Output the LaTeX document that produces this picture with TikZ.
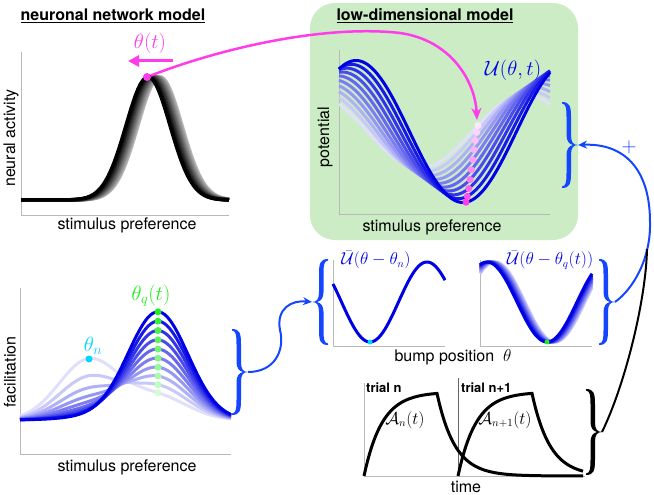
\documentclass[tikz,border=0pt]{standalone}
\usepackage{amsmath}
\usepackage{fontspec}
\setmainfont{TeX Gyre Heros}
\usepackage{tikz}
\usetikzlibrary{arrows.meta, calc}

\definecolor{boxgreen}{RGB}{203,236,196}
\definecolor{mag}{RGB}{255,60,235}
\definecolor{bracecol}{RGB}{20,70,255}
\definecolor{curveblue}{RGB}{0,0,228}
\definecolor{thetan}{RGB}{0,215,255}
\definecolor{thetaq}{RGB}{30,240,30}

\tikzset{
	axis/.style={gray!55, line width=1pt},
	lbl/.style={font=\fontsize{16}{19}\selectfont, inner sep=0pt},
	ttl/.style={font=\fontsize{16}{19}\selectfont\bfseries, inner sep=0pt},
	small/.style={font=\fontsize{13}{16}\selectfont\bfseries, inner sep=0pt},
	mlbl/.style={font=\fontsize{20}{24}\selectfont, inner sep=0pt},
	conn/.style={bracecol, line width=2pt},
	dot/.style={circle, inner sep=0pt, minimum size=7pt},
	rbrace/.pic={
		\fill (-15,-43) .. controls (-7,-43) and (-6,-38) .. (-6,-28) -- (-6,-10) .. controls (-6,-3) and (-4,0) .. (1,0)
			.. controls (-4,0) and (-6,3) .. (-6,10) -- (-6,28) .. controls (-6,38) and (-7,43) .. (-15,43)
			-- (-15,41.5) .. controls (-11,41) and (-10.5,37) .. (-10.5,28) -- (-10.5,10) .. controls (-10.5,4) and (-8,1) .. (-4,0)
			.. controls (-8,-1) and (-10.5,-4) .. (-10.5,-10) -- (-10.5,-28) .. controls (-10.5,-37) and (-11,-41) .. (-15,-41.5) -- cycle;
		\coordinate (-tip) at (1,0);
	},
}

\begin{document}
\begin{tikzpicture}[x=1pt, y=-1pt]
		\useasboundingbox (0,0) rectangle (654,495);
		\fill[boxgreen, rounded corners=25pt] (310,3) rectangle (578,240);
		% titles
		\node[ttl] (t1) at (113,16) {\underline{neuronal network model}};
		\node[ttl] (t2) at (425,16) {\underline{low-dimensional model}};
		% neuronal network model
		\draw[axis] (21,52) -- (21,215) -- (229,215);
		\foreach \k in {12,...,0}{
			\pgfmathtruncatemacro{\s}{100-6*\k}
			\draw[black!\s, line width=3.5pt] plot[domain=21:229, samples=90] (\x, {200-123*exp(-((\x-148-\k)/31.1)*((\x-148-\k)/31.1))});
		}
		\node[lbl, rotate=90] (ya) at (11,138) {neural activity};
		\node[lbl] (xa) at (127,225) {stimulus preference};
		\node[dot, fill=mag, minimum size=8pt] (peak) at (147,77) {};
		\coordinate (thA) at (173,61);
		\coordinate (thB) at (128,61);
		\draw[mag, line width=3pt, -{Triangle[length=11pt,width=11pt]}] (thA) -- (thB);
		\node[mlbl, mag] (th) at (150,43) {$\theta(t)$};
		% low-dimensional model
		\draw[axis] (339,50) -- (339,214) -- (550,214);
		\foreach \k in {0,...,9}{
			\pgfmathsetmacro{\A}{36.5+34.5*\k/9}
			\pgfmathsetmacro{\m}{420+43*\k/9}
			\pgfmathsetmacro{\P}{210+4*\k/9}
			\pgfmathtruncatemacro{\s}{12+88*\k/9}
			\draw[curveblue!\s, line width=3pt] plot[domain=339:550, samples=90] (\x, {131.5+\A*cos(((\x-\m)/\P)*360)});
		}
		\foreach \k in {0,...,9}{
			\pgfmathsetmacro{\A}{36.5+34.5*\k/9}
			\pgfmathsetmacro{\m}{420+43*\k/9}
			\pgfmathsetmacro{\P}{210+4*\k/9}
			\pgfmathsetmacro{\xd}{478-12*\k/9}
			\pgfmathsetmacro{\yd}{131.5+\A*cos(((\xd-\m)/\P)*360)}
			\pgfmathtruncatemacro{\s}{12+88*\k/9}
			\fill[mag!\s!white] (\xd,\yd) circle (3.5);
		}
		\node[lbl, rotate=90] (yb) at (325,137) {potential};
		\node[lbl] (xb) at (432,227) {stimulus preference};
		\node[mlbl, curveblue] (U) at (513,70) {$\mathcal{U}(\theta,t)$};
		\pic[bracecol] (brTop) at (577,145) {rbrace};
		\node[mlbl, bracecol] (plus) at (629,147) {$+$};
		% facilitation
		\draw[axis] (20,288) -- (20,454) -- (231,454);
		\foreach \k in {0,...,9}{
			\pgfmathsetmacro{\a}{60*0.7^\k}
			\pgfmathsetmacro{\b}{23+85*\k/9}
			\pgfmathtruncatemacro{\s}{12+88*\k/9}
			\draw[curveblue!\s, line width=3pt] plot[domain=20:231, samples=90] (\x, {420-\a*exp(-((\x-89)/42.4)*((\x-89)/42.4))-\b*exp(-((\x-158)/42.4)*((\x-158)/42.4))});
		}
		\foreach \k in {0,...,9}{
			\pgfmathsetmacro{\a}{60*0.7^\k}
			\pgfmathsetmacro{\b}{23+85*\k/9}
			\pgfmathsetmacro{\yd}{420-\a*exp(-2.65)-\b}
			\pgfmathtruncatemacro{\s}{20+80*\k/9}
			\fill[thetaq!\s!white] (158,\yd) circle (3.5);
		}
		\node[dot, fill=thetan] (dn) at (89,359) {};
		\node[mlbl, thetan] (thn) at (93,346) {$\theta_n$};
		\node[mlbl, thetaq] (thq) at (151,296) {$\theta_q(t)$};
		\node[lbl, rotate=90] (yc) at (10,372) {facilitation};
		\node[lbl] (xc) at (127,467) {stimulus preference};
		\pic[bracecol] (brLow) at (247,372) {rbrace};
		% bump position panels
		\pic[bracecol, xscale=-1] (brA) at (313,302) {rbrace};
		\draw[axis] (333,260) -- (333,346) -- (445,346);
		\draw[curveblue, line width=3pt] plot[domain=333:445, samples=70] (\x, {302+40*cos(((\x-370)/114)*360)});
		\node[dot, fill=thetan, minimum size=5pt] (dA) at (370,342) {};
		\node[lbl, curveblue] (UA) at (376,260) {$\bar{\mathcal{U}}(\theta-\theta_n)$};
		\draw[axis] (480,260) -- (480,346) -- (592,346);
		\foreach \k in {8,...,0}{
			\pgfmathtruncatemacro{\s}{100-10*\k}
			\draw[curveblue!\s, line width=3pt] plot[domain=480:592, samples=70] (\x, {302+40*cos(((\x-547-\k)/120)*360)});
		}
		\node[dot, fill=thetaq, minimum size=5pt] (dB) at (547,342) {};
		\node[lbl, curveblue] (UB) at (550,260) {$\bar{\mathcal{U}}(\theta-\theta_q(t))$};
		\pic[bracecol] (brB) at (614,302) {rbrace};
		\node[lbl] (xd) at (453,357) {bump position\ \ $\theta$};
		% trials
		\draw[axis] (364,383) -- (364,476) -- (585,476);
		\draw[gray!80!black, line width=1pt] (458,378) -- (458,476);
		\draw[black, line width=3pt] plot[domain=364:437, samples=40] (\x, {476-84*(1-exp(-(\x-364)/18))})
			-- plot[domain=437:583, samples=60] (\x, {476-84*(1-exp(-73/18))*exp(-(\x-437)/18)});
		\draw[black, line width=3pt] plot[domain=458:532, samples=40] (\x, {476-84*(1-exp(-(\x-458)/18))})
			-- plot[domain=532:583, samples=40] (\x, {476-84*(1-exp(-74/18))*exp(-(\x-532)/18)});
		\node[small, anchor=west] (tn) at (366,388) {trial n};
		\node[small, anchor=west] (tn1) at (461,388) {trial n+1};
		\node[lbl] (An) at (405,420) {$\mathcal{A}_n(t)$};
		\node[lbl] (An1) at (505,420) {$\mathcal{A}_{n+1}(t)$};
		\node[lbl] (xe) at (466,487) {time};
		\pic[black] (brTime) at (601,432) {rbrace};
		% connectors
		\coordinate (tipU) at (477,120);
		\coordinate (join) at (647,249);
		\draw[mag, line width=2.5pt, -{Stealth[length=12pt,width=10pt]}] (peak) .. controls (230,45) and (330,25) .. (400,33) .. controls (450,40) and (475,80) .. (tipU);
		\draw[conn, -{Stealth[length=9pt,width=8pt]}] (brLow-tip) .. controls (275,372) and (285,350) .. (280,330) .. controls (276,308) and (292,300) .. (brA-tip);
		\draw[conn, -{Stealth[length=9pt,width=8pt]}] (brB-tip) .. controls (632,290) and (651,260) .. (650,222) .. controls (650,170) and (625,143) .. (brTop-tip);
		\draw[black, line width=2pt] (brTime-tip) .. controls (625,385) and (646,300) .. (join);
	\end{tikzpicture}
\end{document}
